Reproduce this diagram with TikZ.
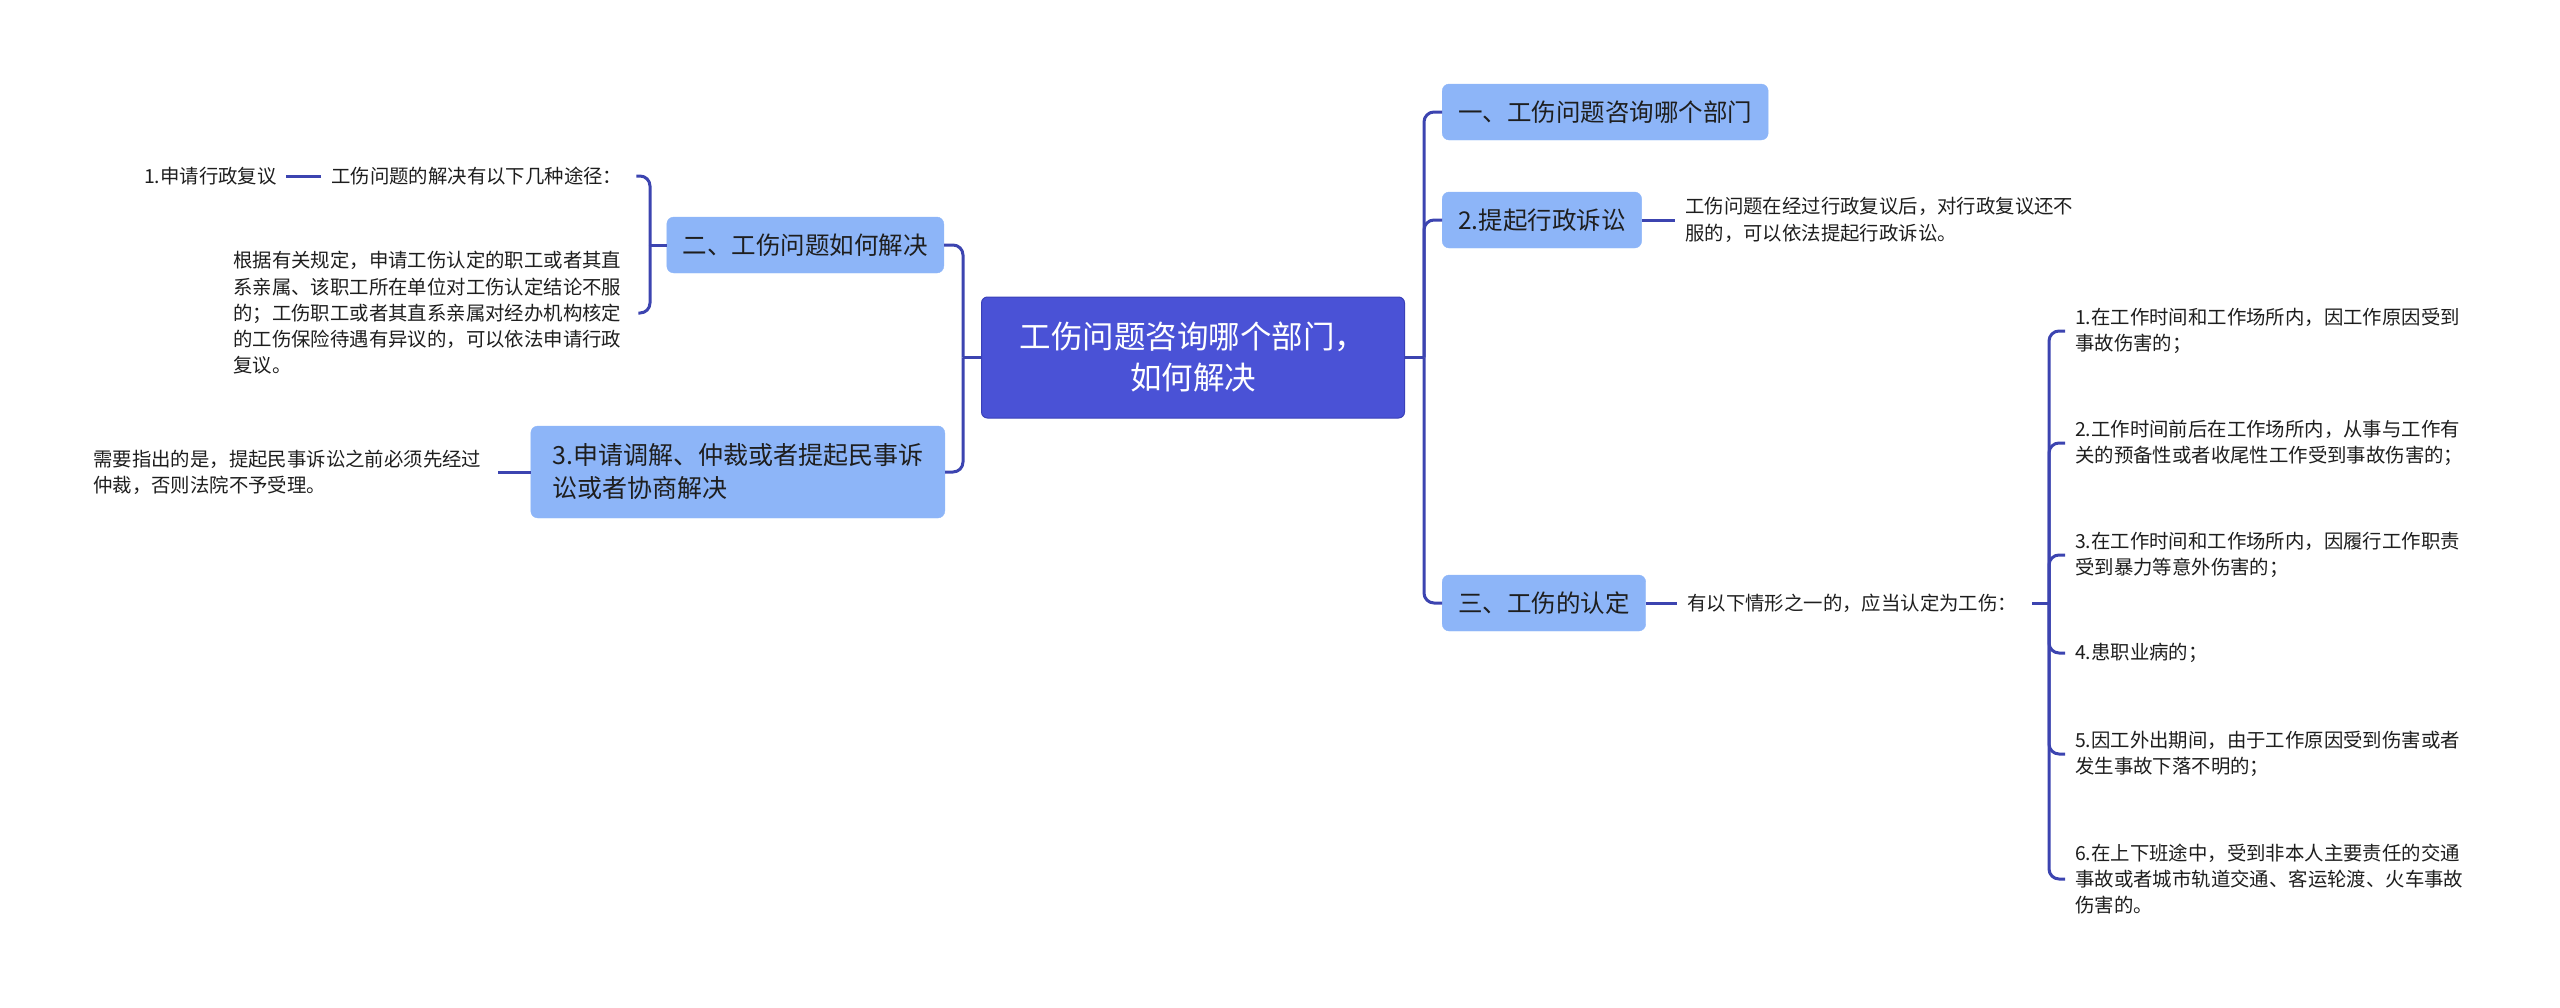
\documentclass[tikz,border=0pt]{standalone}
\usepackage{fontspec}
\setmainfont{Noto Sans CJK SC}
\definecolor{lineblue}{HTML}{3C44B0}
\definecolor{centralblue}{HTML}{4A52D6}
\definecolor{centralborder}{HTML}{3A40B8}
\definecolor{topicblue}{HTML}{8DB5F8}
\definecolor{textdark}{HTML}{1E1E1E}
\tikzset{
  conn/.style={draw=lineblue, line width=3pt, rounded corners=10pt},
  central/.style={fill=centralblue, draw=centralborder, line width=1pt, rounded corners=6pt, text=white,
    font=\fontsize{31.5}{41}\selectfont, align=center, minimum width=423pt, minimum height=121pt, inner sep=0pt},
  topic/.style={fill=topicblue, draw=topicblue, rounded corners=7pt, text=textdark,
    font=\fontsize{24.5}{33}\selectfont, inner xsep=16pt, inner ysep=4pt, minimum height=56pt},
  leaf/.style={text=textdark, font=\fontsize{19.4}{26.3}\selectfont, align=left, inner xsep=10pt, inner ysep=2pt, anchor=west},
}
\begin{document}
\begin{tikzpicture}[x=1pt,y=-1pt]
\useasboundingbox (0,0) rectangle (2560,1007);

% central
\node[central] (c) at (1193,357.5) {工伤问题咨询哪个部门，\\如何解决};
\coordinate (jl) at (963,357.5);
\coordinate (jr) at (1424,357.5);

% right topics
\node[topic, anchor=west] (r1) at (1442,112) {一、工伤问题咨询哪个部门};
\node[topic, anchor=west] (r2) at (1442,220) {2.提起行政诉讼};
\node[topic, anchor=west] (r3) at (1442,603) {三、工伤的认定};

% left topics
\node[topic, anchor=east] (l1) at (944,245) {二、工伤问题如何解决};
\node[topic, anchor=east, align=left, inner xsep=13pt, minimum height=92pt, minimum width=414pt,
      font=\fontsize{25}{33}\selectfont] (l2) at (945,472) {3.申请调解、仲裁或者提起民事诉\\讼或者协商解决};

% leaves left
\node[leaf, text width=132pt] (t1) at (134,176) {1.申请行政复议};
\node[leaf, text width=295pt] (ta) at (321,176) {工伤问题的解决有以下几种途径：};
\node[leaf, text width=395pt] (tb) at (223,313) {根据有关规定，申请工伤认定的职工或者其直\\系亲属、该职工所在单位对工伤认定结论不服\\的；工伤职工或者其直系亲属对经办机构核定\\的工伤保险待遇有异议的，可以依法申请行政\\复议。};
\node[leaf, text width=395pt] (tc) at (83,472) {需要指出的是，提起民事诉讼之前必须先经过\\仲裁，否则法院不予受理。};
\coordinate (ja) at (650,245);

% leaves right
\node[leaf, text width=395pt] (t2) at (1675,220) {工伤问题在经过行政复议后，对行政复议还不\\服的，可以依法提起行政诉讼。};
\node[leaf, text width=335pt] (t3) at (1677,603) {有以下情形之一的，应当认定为工伤：};
\coordinate (jb) at (2049,603);

\node[leaf, text width=400pt] (i1) at (2065,331) {1.在工作时间和工作场所内，因工作原因受到\\事故伤害的；};
\node[leaf, text width=400pt] (i2) at (2065,443) {2.工作时间前后在工作场所内，从事与工作有\\关的预备性或者收尾性工作受到事故伤害的；};
\node[leaf, text width=400pt] (i3) at (2065,555) {3.在工作时间和工作场所内，因履行工作职责\\受到暴力等意外伤害的；};
\node[leaf, text width=400pt] (i4) at (2065,653) {4.患职业病的；};
\node[leaf, text width=400pt] (i5) at (2065,754) {5.因工外出期间，由于工作原因受到伤害或者\\发生事故下落不明的；};
\node[leaf, text width=400pt] (i6) at (2065,879) {6.在上下班途中，受到非本人主要责任的交通\\事故或者城市轨道交通、客运轮渡、火车事故\\伤害的。};

% connectors
\draw[conn] (c.west) -- (jl);
\draw[conn] (c.east) -- (jr);
\draw[conn] (jl) |- (l1.east);
\draw[conn] (jl) |- (l2.east);
\draw[conn] (jr) |- (r1.west);
\draw[conn] (jr) |- (r2.west);
\draw[conn] (jr) |- (r3.west);

\draw[conn] (l1.west) -- (ja);
\draw[conn] (ja) |- (ta.east);
\draw[conn] (ja) |- (tb.east);
\draw[conn] (ta.west) -- (t1.east);
\draw[conn] (l2.west) -- (tc.east);

\draw[conn] (r2.east) -- (t2.west);
\draw[conn] (r3.east) -- (t3.west);
\draw[conn] (t3.east) -- (jb);
\foreach \n in {i1,i2,i3,i4,i5,i6} { \draw[conn] (jb) |- (\n.west); }
\end{tikzpicture}
\end{document}
